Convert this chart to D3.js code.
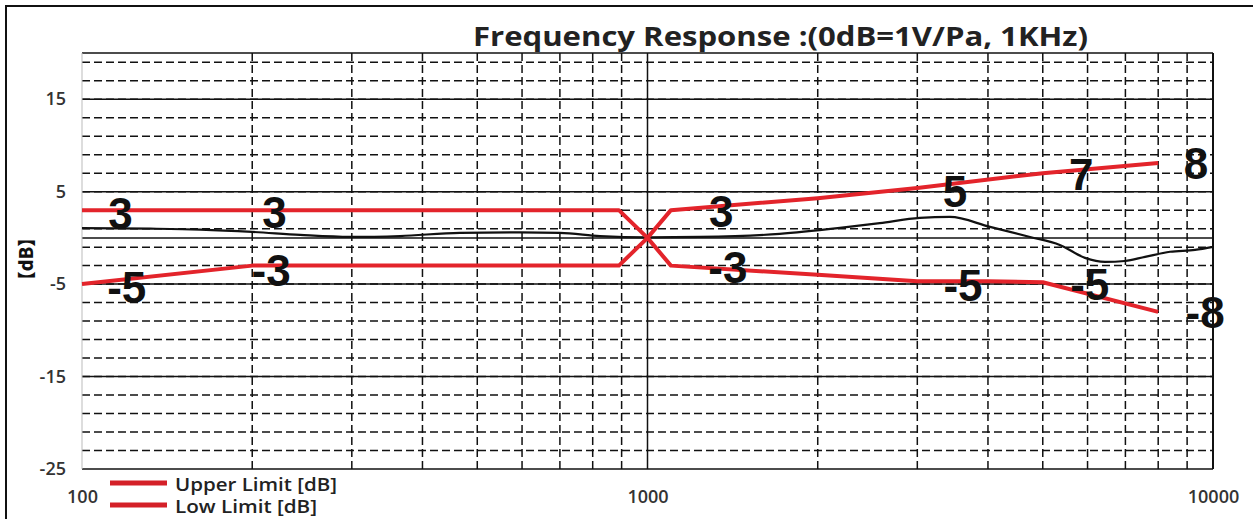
<!DOCTYPE html>
<html>
<head>
<meta charset="utf-8">
<script src="https://cdn.jsdelivr.net/npm/d3@7"></script>
<style>
  body { margin:0; background:#fff; }
  svg text { font-family:"Open Sans", "Liberation Sans", sans-serif; }
</style>
</head>
<body>
<div id="canvas"></div>
<script>
// data
var responseFreq = [100, 132, 162, 200, 243, 298, 365, 466, 595, 700, 824, 1000, 1238, 1713, 2189, 2575, 3031, 3426, 4033, 4747, 5360, 5937, 6443, 6985, 7583, 8396, 9293, 10000];
var responseDb   = [1.05, 1.0, 0.9, 0.65, 0.32, 0.1, 0.2, 0.55, 0.6, 0.55, 0.2, 0.05, 0.1, 0.43, 1.08, 1.6, 2.16, 2.27, 1.19, 0.1, -0.76, -2.16, -2.6, -2.5, -2.05, -1.5, -1.3, -0.97];

var upperFreq = [100, 890, 1000, 1100, 2000, 3000, 5000, 8000];
var upperDb   = [3, 3, 0, 3, 4.3, 5.4, 7.0, 8.1];

var lowFreq = [100, 200, 890, 1000, 1100, 2000, 3000, 4000, 5000, 8000];
var lowDb   = [-5, -3, -3, 0, -3, -4, -4.7, -4.7, -4.8, -8];

var labelFreq = [117, 219, 120, 216, 1350, 1387, 3499, 5848, 9333, 3614, 6053, 9685];
var labelDb   = [2.7, 2.8, -5.3, -3.5, 2.9, -3.2, 5.1, 6.9, 8.1, -5.1, -5.0, -8.0];
var labelText = ['3', '3', '-5', '-3', '3', '-3', '5', '7', '8', '-5', '-5', '-8'];

var yTicks = [-25, -15, -5, 5, 15];
var xTicks = [100, 1000, 10000];
var legendNames = ['Upper Limit [dB]', 'Low Limit [dB]'];

var W = 1253, H = 519;
var m = {t:53, r:40, b:50, l:82};

var svg = d3.select('#canvas')
    .append('svg')
    .attr('width', W)
    .attr('height', H);

var x = d3.scaleLog().domain([100, 10000]).range([m.l, W - m.r]);
var y = d3.scaleLinear().domain([-25, 20]).range([H - m.b, m.t]);

// outer frame (only top + left show)
svg.append('path')
    .attr('d', 'M6,' + H + 'V6H' + W)
    .attr('fill', 'none').attr('stroke', '#111').attr('stroke-width', 2);

var grid = svg.append('g');

// dashed minor lines
grid.selectAll('.hdash').data(d3.range(-23, 20, 2)).enter()
    .append('line')
    .attr('x1', x(100)).attr('x2', x(10000))
    .attr('y1', function(d){ return y(d); }).attr('y2', function(d){ return y(d); })
    .attr('stroke', '#111').attr('stroke-width', 1.5).attr('stroke-dasharray', '8,4');

var vminor = [200,300,400,500,600,700,800,900,2000,3000,4000,5000,6000,7000,8000,9000];
grid.selectAll('.vdash').data(vminor).enter()
    .append('line')
    .attr('y1', y(20)).attr('y2', y(-25))
    .attr('x1', function(d){ return x(d); }).attr('x2', function(d){ return x(d); })
    .attr('stroke', '#111').attr('stroke-width', 1.5).attr('stroke-dasharray', '8,4');

// solid major lines
grid.selectAll('.hsolid').data([-15, -5, 0, 5, 15, 20, -25]).enter()
    .append('line')
    .attr('x1', x(100)).attr('x2', x(10000))
    .attr('y1', function(d){ return y(d); }).attr('y2', function(d){ return y(d); })
    .attr('stroke', '#111').attr('stroke-width', 1.5);

grid.append('line')
    .attr('x1', x(1000)).attr('x2', x(1000))
    .attr('y1', y(20)).attr('y2', y(-25))
    .attr('stroke', '#111').attr('stroke-width', 1.5);
grid.append('line')
    .attr('x1', x(10000)).attr('x2', x(10000))
    .attr('y1', y(20)).attr('y2', y(-25))
    .attr('stroke', '#111').attr('stroke-width', 2);
grid.append('line')
    .attr('x1', x(100)).attr('x2', x(100))
    .attr('y1', y(20)).attr('y2', y(-25))
    .attr('stroke', '#bbb').attr('stroke-width', 1);

// axes (plain hyphen for minus, like the original)
var axisY = d3.axisLeft(y).tickValues(yTicks).tickSize(0).tickPadding(16)
    .tickFormat(function(d){ return String(d); });
svg.append('g')
    .attr('transform', 'translate(' + m.l + ',0)')
    .call(axisY)
    .call(function(g){ g.select('.domain').remove(); })
    .selectAll('text')
    .attr('font-size', 18).attr('font-weight', 600).attr('fill', '#333')
    .style('font-family', '"Open Sans", sans-serif');

var axisX = d3.axisBottom(x).tickValues(xTicks).tickFormat(d3.format('d')).tickSize(0).tickPadding(21);
svg.append('g')
    .attr('transform', 'translate(0,' + (H - m.b) + ')')
    .call(axisX)
    .call(function(g){ g.select('.domain').remove(); })
    .selectAll('text')
    .attr('font-size', 18).attr('font-weight', 600).attr('fill', '#333')
    .style('font-family', '"Open Sans", sans-serif');

// y label
svg.append('text')
    .attr('transform', 'translate(33,259) rotate(-90)')
    .attr('text-anchor', 'middle')
    .attr('font-size', 18).attr('font-weight', 900).attr('fill', '#111')
    .style('font-family', '"Noto Sans CJK SC", sans-serif')
    .text('【dB】');

// title
svg.append('text')
    .attr('x', 473).attr('y', 46)
    .attr('font-size', 26).attr('font-weight', 'bold').attr('fill', '#222')
    .attr('textLength', 615).attr('lengthAdjust', 'spacingAndGlyphs')
    .text('Frequency Response :(0dB=1V/Pa, 1KHz)');

var line = d3.line()
    .x(function(d){ return x(d[0]); })
    .y(function(d){ return y(d[1]); });

// measured response
svg.append('path')
    .datum(d3.zip(responseFreq, responseDb))
    .attr('d', line.curve(d3.curveMonotoneX))
    .attr('fill', 'none').attr('stroke', '#111').attr('stroke-width', 2.2);

line.curve(d3.curveLinear);
svg.append('path')
    .datum(d3.zip(upperFreq, upperDb))
    .attr('d', line)
    .attr('fill', 'none').attr('stroke', '#e3242b').attr('stroke-width', 4)
    .attr('stroke-linejoin', 'round');
svg.append('path')
    .datum(d3.zip(lowFreq, lowDb))
    .attr('d', line)
    .attr('fill', 'none').attr('stroke', '#e3242b').attr('stroke-width', 4)
    .attr('stroke-linejoin', 'round');

// big limit labels
svg.selectAll('.lbl').data(d3.range(labelText.length)).enter()
    .append('text')
    .attr('x', function(i){ return x(labelFreq[i]); })
    .attr('y', function(i){ return y(labelDb[i]); })
    .attr('dy', '0.36em')
    .attr('text-anchor', 'middle')
    .attr('font-size', 44).attr('font-weight', 'bold').attr('fill', '#111')
    .style('font-family', '"Liberation Sans", Arial, sans-serif')
    .text(function(i){ return labelText[i]; });

// legend
var leg = svg.selectAll('.leg').data(legendNames).enter()
    .append('g')
    .attr('transform', function(d, i){ return 'translate(110,' + (483 + i * 22) + ')'; });
leg.append('line')
    .attr('x1', 0).attr('x2', 57)
    .attr('stroke', '#d42028').attr('stroke-width', 5);
leg.append('text')
    .attr('x', 65).attr('y', 8)
    .attr('font-size', 18).attr('font-weight', 600).attr('fill', '#222')
    .attr('textLength', function(d, i){ return i ? 142 : 162; })
    .attr('lengthAdjust', 'spacingAndGlyphs')
    .text(function(d){ return d; });
</script>
</body>
</html>
